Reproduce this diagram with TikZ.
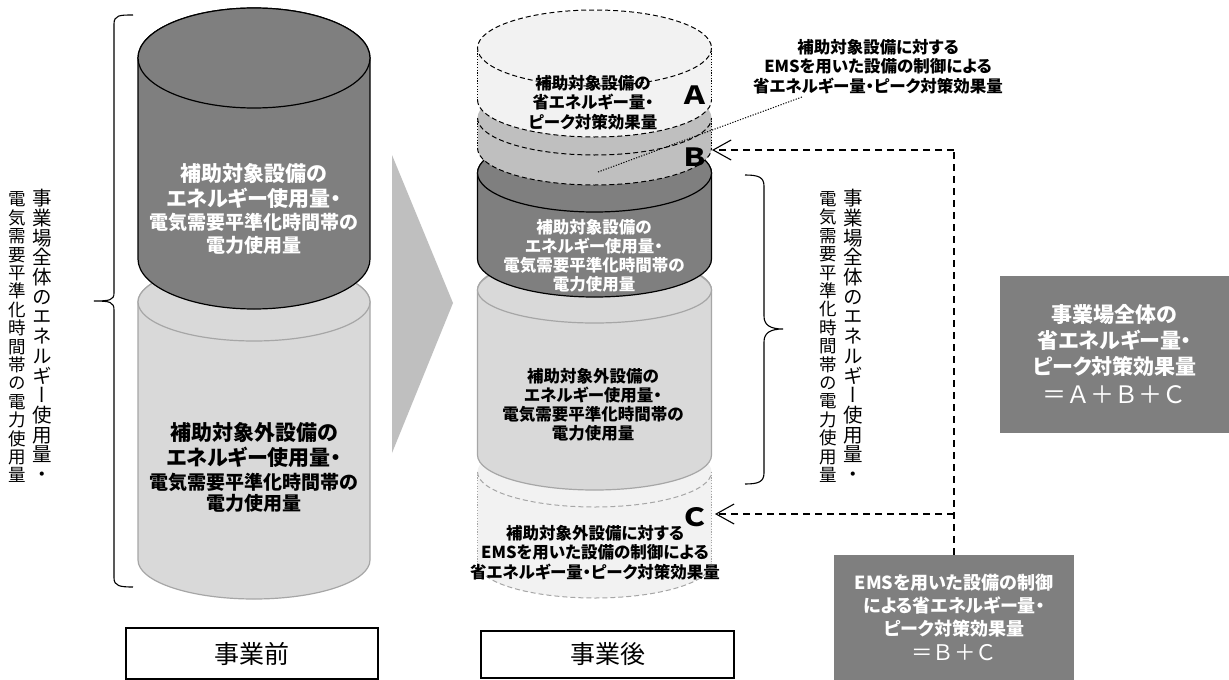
\documentclass[tikz,border=0pt]{standalone}
\usepackage{fontspec}
\usetikzlibrary{arrows.meta}
\setmainfont[RawFeature=+palt]{Noto Sans CJK JP}
\newfontfamily\vjp[RawFeature=+vert]{Noto Sans CJK JP}
\newfontfamily\wide{Noto Sans CJK JP}
\newcommand{\fsz}[2]{\fontsize{#1}{#2}\selectfont\lineskiplimit=-100pt }
% body outline: cx rx ytop ybot ry
\newcommand{\CylBody}[5]{({#1-#2},#3) -- ({#1-#2},#4) arc[start angle=180,end angle=0,x radius=#2,y radius=#5] -- ({#1+#2},#3) arc[start angle=0,end angle=-180,x radius=#2,y radius=#5] -- cycle}
\newcommand{\CylTop}[4]{(#1,#3) ellipse[x radius=#2,y radius=#4]}
\newcommand{\CylLow}[4]{({#1-#2},#3) arc[start angle=180,end angle=0,x radius=#2,y radius=#4]}
\tikzset{
  darkcyl/.style={fill=cdark,draw=black,line width=1.2pt},
  lightcyl/.style={fill=clight,draw=cedge,line width=1.2pt},
  ghostdash/.style={draw=black,line width=1pt,dash pattern=on 5pt off 3pt},
  ghostdot/.style={draw=black,line width=1pt,dash pattern=on 1.2pt off 1.5pt},
  paledash/.style={draw=cedge,line width=1pt,dash pattern=on 5pt off 3pt},
  paledot/.style={draw=cedge,line width=1pt,dash pattern=on 1.2pt off 1.5pt},
  brace/.style={draw=black,line width=1.1pt},
  block/.style={align=center,inner sep=0pt},
  lead/.style={font=\bfseries\fsz{#1}{#1}},
  vtext/.style={align=center,inner sep=0pt,font=\vjp\fsz{19.5}{19.7}},
  vtextb/.style={align=center,inner sep=0pt,font=\vjp\fsz{17.5}{18.4}},
  tag/.style={draw=black,line width=1.3pt,fill=white,inner sep=0pt,font=\wide\fsz{25}{30}},
  result/.style={fill=cdark,text=white,align=center,inner sep=0pt},
  letter/.style={inner sep=0pt,font=\wide\bfseries\fsz{25}{30}},
  link/.style={draw=black,line width=1.2pt,dash pattern=on 7pt off 5pt},
  linkhead/.style={-{Straight Barb[length=18pt,width=20pt,line width=1.1pt]}}
}
\definecolor{cdark}{HTML}{7F7F7F}
\definecolor{clight}{HTML}{D9D9D9}
\definecolor{cedge}{HTML}{A6A6A6}
\definecolor{cpale}{HTML}{F2F2F2}
\definecolor{cmid}{HTML}{BFBFBF}
\newcommand{\Ba}{\fontsize{21}{21}\selectfont }
\newcommand{\Bb}{\fontsize{19}{19}\selectfont }
\newcommand{\Bc}{\fontsize{16.5}{16.5}\selectfont }
\newcommand{\Be}{\fontsize{21}{21}\selectfont }
\newcommand{\Bf}{\fontsize{18}{18}\selectfont }
\begin{document}
\begin{tikzpicture}[x=1pt,y=-1pt]
\path[fill=white,use as bounding box] (0,0) rectangle (1229,680);
% chevron
\fill[cmid] (392,155) -- (453,303) -- (392,453) -- cycle;
% left stack
\path[lightcyl] \CylBody{254}{116}{302}{560}{39};
\path[lightcyl] \CylTop{254}{116}{302}{39};
\path[darkcyl] \CylBody{254}{116}{58}{259}{50};
\path[darkcyl] \CylTop{254}{116}{58}{50};
% right stack: C
\fill[cpale] \CylBody{594.5}{117}{472}{563}{35};
\path[paledash] \CylLow{594.5}{117}{472}{35};
\path[paledash] \CylLow{594.5}{117}{563}{35};
\path[paledot] (477.5,472) -- (477.5,563) (711.5,472) -- (711.5,563);
% right stack: light
\path[lightcyl] \CylBody{594.5}{117}{290}{455}{35};
\path[lightcyl] \CylTop{594.5}{117}{290}{33};
% right stack: dark
\path[darkcyl] \CylBody{594.5}{117}{173}{259}{38};
\path[darkcyl] \CylTop{594.5}{117}{173}{39};
% right stack: B
\fill[cmid] \CylBody{594.5}{117}{118}{148}{37};
\path[ghostdash] \CylLow{594.5}{117}{118}{37};
\path[ghostdash] \CylLow{594.5}{117}{148}{37};
\path[ghostdot] (477.5,118) -- (477.5,148) (711.5,118) -- (711.5,148);
% right stack: A
\fill[cpale] \CylBody{594.5}{117}{48}{100}{37};
\path[ghostdash] \CylTop{594.5}{117}{48}{38};
\path[ghostdash] \CylLow{594.5}{117}{100}{37};
\path[ghostdot] (477.5,48) -- (477.5,100) (711.5,48) -- (711.5,100);
% braces
\path[brace] (133,15) .. controls (120,15) and (114,15) .. (114,24) -- (114,293) .. controls (114,300) and (110,301) .. (94,301) .. controls (110,301) and (114,302) .. (114,310) -- (114,578) .. controls (114,586) and (120,587) .. (133,587);
\path[brace] (745,175) .. controls (758,175) and (764,177) .. (764,186) -- (764,316) .. controls (764,325) and (770,329) .. (783,329) .. controls (770,329) and (764,333) .. (764,342) -- (764,473) .. controls (764,482) and (758,484) .. (745,484);
% cylinder texts
\node[block,text=white,lead=23] (dl) at (254,208.5) {\Ba 補助対象設備の\\[2pt]\Ba エネルギー使用量・\\\Bb 電気需要平準化時間帯の\\\Bb 電力使用量};
\node[block,lead=21.5] (ll) at (254,467.5) {\Ba 補助対象外設備の\\[4pt]\Ba エネルギー使用量・\\[2pt]\Bb 電気需要平準化時間帯の\\\Bb 電力使用量};
\node[block,text=white,lead=19] (dr) at (594,255.5) {\Bc 補助対象設備の\\\Bc エネルギー使用量・\\\Bc 電気需要平準化時間帯の\\\Bc 電力使用量};
\node[block,lead=19] (lr) at (593,404.5) {\Bc 補助対象外設備の\\\Bc エネルギー使用量・\\\Bc 電気需要平準化時間帯の\\\Bc 電力使用量};
\node[block,lead=19.5] (ta) at (593,102.5) {\Bc 補助対象設備の\\\Bc 省エネルギー量・\\\Bc ピーク対策効果量};
\node[block,lead=19.5] (tc) at (595,552.5) {\Bc 補助対象外設備に対する\\\Bc EMSを用いた設備の制御による\\\Bc 省エネルギー量・ピーク対策効果量};
\node[block,lead=19.5] (tb) at (878,66.5) {\Bc 補助対象設備に対する\\\Bc EMSを用いた設備の制御による\\\Bc 省エネルギー量・ピーク対策効果量};
\node[letter] (la) at (695,95) {\scalebox{1.15}[1]{Ａ}};
\node[letter] (lb) at (695,157) {\scalebox{1.15}[1]{Ｂ}};
\node[letter] (lc) at (695,517) {\scalebox{1.15}[1]{Ｃ}};
% vertical texts
\node[vtext] (v1) at (42,335.5) {事\\業\\場\\全\\体\\の\\エ\\ネ\\ル\\ギ\\ー\\使\\用\\量\\・};
\node[vtextb] (v2) at (17,337.5) {電\\気\\需\\要\\平\\準\\化\\時\\間\\帯\\の\\電\\力\\使\\用\\量};
\node[vtext] (v3) at (853,335.5) {事\\業\\場\\全\\体\\の\\エ\\ネ\\ル\\ギ\\ー\\使\\用\\量\\・};
\node[vtextb] (v4) at (828,337) {電\\気\\需\\要\\平\\準\\化\\時\\間\\帯\\の\\電\\力\\使\\用\\量};
% tag boxes
\node[tag,minimum width=252pt,minimum height=51pt] (before) at (252,653.5) {事業前};
\node[tag,minimum width=253pt,minimum height=47pt] (after) at (607.5,654.5) {事業後};
% result boxes
\node[result,lead=26,minimum width=229pt,minimum height=157pt] (sumall) at (1114.5,354.5) {\Be 事業場全体の\\\Be 省エネルギー量・\\\Be ピーク対策効果量\\[3pt]\mdseries\wide\fontsize{24}{24}\selectfont ＝Ａ＋Ｂ＋Ｃ};
\node[result,lead=23,minimum width=240pt,minimum height=125pt] (sumbc) at (954,617.5) {\Bf EMSを用いた設備の制御\\\Bf による省エネルギー量・\\\Bf ピーク対策効果量\\[2pt]\mdseries\wide\fontsize{21.5}{21.5}\selectfont ＝Ｂ＋Ｃ};
% connectors
\coordinate (dotA) at (598,172);
\coordinate (dotB) at (802,97);
\draw[ghostdot] (dotA) -- (dotB);
\coordinate (tipB) at (712,150);
\coordinate (cornerB) at (954,150);
\coordinate (tipC) at (715,514);
\coordinate (forkC) at (954,514);
\draw[link] (sumbc.north) -- (cornerB);
\draw[link,linkhead] (cornerB) -- (tipB);
\draw[link,linkhead] (forkC) -- (tipC);
\end{tikzpicture}
\end{document}
